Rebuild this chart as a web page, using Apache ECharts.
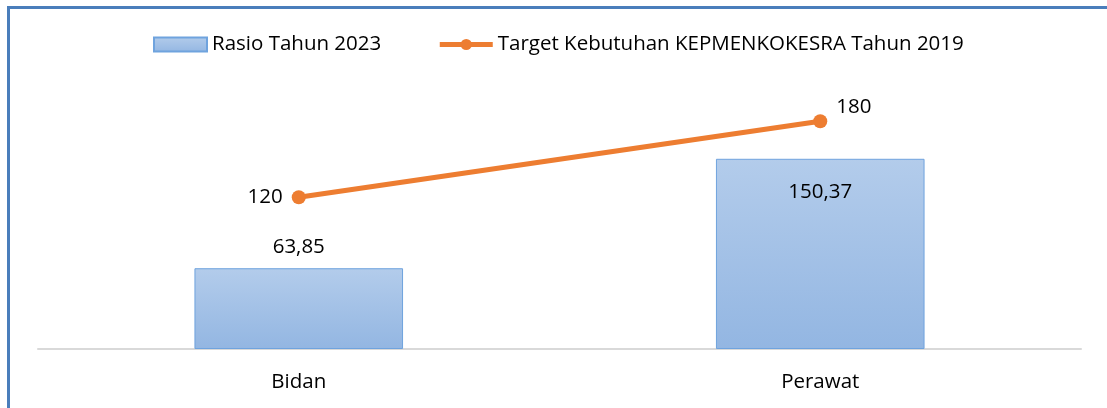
<!DOCTYPE html>
<html>
<head>
<meta charset="utf-8">
<script src="https://cdn.jsdelivr.net/npm/echarts@6/dist/echarts.min.js"></script>
<style>
  html, body { margin: 0; padding: 0; background: #fff; }
  .frame {
    position: absolute; left: 7px; top: 6px; width: 1120px; height: 420px;
    border-left: 3px solid #4a7ebb; border-top: 3px solid #4a7ebb;
  }
  #chart { position: absolute; left: 0; top: 0; width: 1107px; height: 408px; }
</style>
</head>
<body>
<div class="frame"></div>
<div id="chart"></div>
<script>
// data
const categories = ['Bidan', 'Perawat'];
const rasio2023 = [63.85, 150.37];
const target2019 = [120, 180];
const seriesNames = ['Rasio Tahun 2023', 'Target Kebutuhan KEPMENKOKESRA Tahun 2019'];

const fmt = v => String(v).replace('.', ',');
const font = '"Open Sans", sans-serif';
const fs = 20.5;

const chart = echarts.init(document.getElementById('chart'));
chart.setOption({
  animation: false,
  textStyle: { fontFamily: font },
  legend: {
    top: 34,
    left: 153,
    padding: 0,
    itemGap: 56,
    itemWidth: 53,
    itemHeight: 14,
    textStyle: { fontSize: fs, color: '#000', fontFamily: font },
    data: [
      { name: seriesNames[0], icon: 'rect' },
      { name: seriesNames[1], lineStyle: { width: 5, color: '#ed7d31' } }
    ]
  },
  grid: { left: 38, right: 26, top: 96, bottom: 59 },
  xAxis: {
    type: 'category',
    data: categories,
    axisTick: { show: false },
    axisLine: { lineStyle: { color: '#d9d9d9', width: 2 } },
    axisLabel: { fontSize: fs, color: '#000', margin: 23, fontFamily: font }
  },
  yAxis: {
    type: 'value', min: 0, max: 200,
    show: false,
    splitLine: { show: false }
  },
  series: [
    {
      name: seriesNames[0],
      type: 'bar',
      barWidth: '40%',
      itemStyle: {
        color: new echarts.graphic.LinearGradient(0, 0, 0, 1, [
          { offset: 0, color: '#b3cceb' },
          { offset: 1, color: '#93b6e2' }
        ]),
        borderColor: '#6fa3de',
        borderWidth: 1
      },
      label: {
        show: true,
        fontSize: fs, color: '#000', fontFamily: font,
        formatter: p => fmt(p.value),
        position: 'top', distance: 11
      },
      data: [
        { value: rasio2023[0] },
        { value: rasio2023[1], label: { position: 'insideTop', distance: 23 } }
      ],
      emphasis: { disabled: true }
    },
    {
      name: seriesNames[1],
      type: 'line',
      symbol: 'circle',
      symbolSize: 14,
      lineStyle: { color: '#ed7d31', width: 5 },
      itemStyle: { color: '#ed7d31' },
      label: {
        show: true,
        fontSize: fs, color: '#000', fontFamily: font,
        formatter: p => fmt(p.value)
      },
      data: [
        { value: target2019[0], label: { position: 'left', distance: 9 } },
        { value: target2019[1], label: { position: [23, -18] } }
      ],
      z: 5
    }
  ]
});
</script>
</body>
</html>
